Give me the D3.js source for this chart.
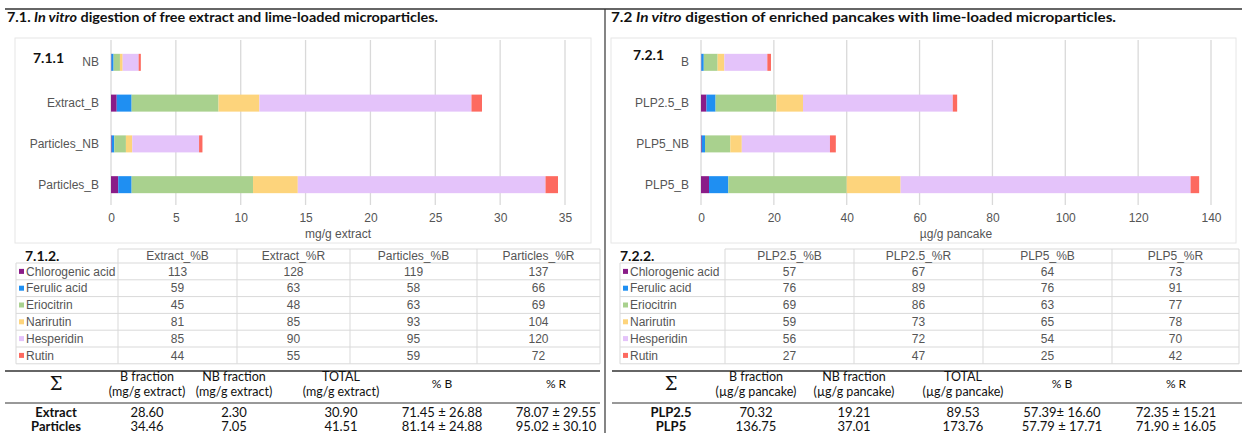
<!DOCTYPE html>
<html><head><meta charset="utf-8">
<script src="https://cdn.jsdelivr.net/npm/d3@7/dist/d3.min.js"></script>
<style>
html,body{margin:0;padding:0;background:#fff;}
svg{display:block;}
</style></head>
<body>
<svg id="fig" width="1242" height="433"></svg>
<script>
// ---------- DATA ----------
const compounds = ["Chlorogenic acid","Ferulic acid","Eriocitrin","Narirutin","Hesperidin","Rutin"];
const compoundColors = ["#8a1c88","#1f8ff2","#a9d18e","#fdd47c","#e4c3fa","#fd6a60"];

const extractCats = ["NB","Extract_B","Particles_NB","Particles_B"];
const extractChlorogenic = [0.03, 0.44, 0.05, 0.56];
const extractFerulic     = [0.17, 1.15, 0.20, 1.03];
const extractEriocitrin  = [0.49, 6.70, 0.90, 9.36];
const extractNarirutin   = [0.21, 3.15, 0.49, 3.45];
const extractHesperidin  = [1.23, 16.35, 5.15, 19.10];
const extractRutin       = [0.17, 0.81, 0.26, 0.96];
const extractTicks = [0,5,10,15,20,25,30,35];

const pancakeCats = ["B","PLP2.5_B","PLP5_NB","PLP5_B"];
const pancakeChlorogenic = [0.10, 1.50, 0.20, 2.20];
const pancakeFerulic     = [0.66, 2.50, 0.90, 5.30];
const pancakeEriocitrin  = [3.80, 16.70, 6.95, 32.50];
const pancakeNarirutin   = [1.85, 7.30, 3.15, 14.80];
const pancakeHesperidin  = [11.80, 41.12, 24.20, 79.60];
const pancakeRutin       = [1.00, 1.20, 1.61, 2.35];
const pancakeTicks = [0,20,40,60,80,100,120,140];

const extractCols = ["Extract_%B","Extract_%R","Particles_%B","Particles_%R"];
const extractPct = [[113,128,119,137],[59,63,58,66],[45,48,63,69],[81,85,93,104],[85,90,95,120],[44,55,59,72]];
const pancakeCols = ["PLP2.5_%B","PLP2.5_%R","PLP5_%B","PLP5_%R"];
const pancakePct = [[57,67,64,73],[76,89,76,91],[69,86,63,77],[59,73,65,78],[56,72,54,70],[27,47,25,42]];

const sumHeadLeft = [["Σ"],["B fraction","(mg/g extract)"],["NB fraction","(mg/g extract)"],["TOTAL","(mg/g extract)"],["% B"],["% R"]];
const sumRowsLeft = [["Extract","28.60","2.30","30.90","71.45 ± 26.88","78.07 ± 29.55"],
                     ["Particles","34.46","7.05","41.51","81.14 ± 24.88","95.02 ± 30.10"]];
const sumHeadRight = [["Σ"],["B fraction","(µg/g pancake)"],["NB fraction","(µg/g pancake)"],["TOTAL","(µg/g pancake)"],["% B"],["% R"]];
const sumRowsRight = [["PLP2.5","70.32","19.21","89.53","57.39± 16.60","72.35 ± 15.21"],
                      ["PLP5","136.75","37.01","173.76","57.79 ± 17.71","71.90 ± 16.05"]];

// ---------- DRAW ----------
const svg = d3.select("#fig");
const gray = "#555", grid = "#d9d9d9";
const chartFont = "'Liberation Sans', Arial, sans-serif";
const docFont = "Lato, 'Open Sans', sans-serif";
const fs = 12;

// top rule and divider
svg.append("line").attr("x1",5).attr("x2",1242).attr("y1",9).attr("y2",9).attr("stroke","#333").attr("stroke-width",1.6);
svg.append("line").attr("x1",605).attr("x2",605).attr("y1",9).attr("y2",433).attr("stroke","#333").attr("stroke-width",1.2);

function title(x, len, parts){
  const t = svg.append("text").attr("x",x).attr("y",22).attr("font-family",docFont).attr("font-size",14).attr("font-weight","bold").attr("fill","#111")
    .attr("textLength",len).attr("lengthAdjust","spacingAndGlyphs");
  parts.forEach(p=>t.append("tspan").attr("font-style",p[1]?"italic":"normal").text(p[0]));
}
title(7, 431, [["7.1. ",false],["In vitro",true],[" digestion of free extract and lime-loaded microparticles.",false]]);
title(611, 505, [["7.2 ",false],["In vitro",true],[" digestion of enriched pancakes with lime-loaded microparticles.",false]]);

function chart(o){
  const g = svg.append("g");
  g.append("rect").attr("x",o.fx0).attr("y",38).attr("width",o.fx1-o.fx0).attr("height",205).attr("fill","none").attr("stroke","#e6e6e6").attr("stroke-width",1);
  const x = d3.scaleLinear().domain([0,o.ticks[o.ticks.length-1]]).range([o.x0,o.x1]);
  const y = d3.scaleBand().domain(o.cats).range([42,205]).paddingInner(0.583).paddingOuter(0.29);
  g.selectAll("line.grid").data(o.ticks).join("line").attr("class","grid")
    .attr("x1",d=>x(d)).attr("x2",d=>x(d)).attr("y1",40).attr("y2",205)
    .attr("stroke",grid).attr("stroke-width",1.3);
  const ax = g.append("g").attr("transform","translate(0,205)")
    .call(d3.axisBottom(x).tickValues(o.ticks).tickSize(0).tickPadding(8));
  ax.select(".domain").remove();
  ax.selectAll("text").attr("font-family",chartFont).attr("font-size",fs).attr("fill",gray);
  const ay = g.append("g").attr("transform",`translate(${o.x0},0)`)
    .call(d3.axisLeft(y).tickSize(0).tickPadding(12));
  ay.select(".domain").remove();
  ay.selectAll("text").attr("font-family",chartFont).attr("font-size",fs).attr("fill",gray);
  const rows = o.cats.map((c,i)=>{const r={cat:c}; compounds.forEach((k,j)=>r[k]=o.series[j][i]); return r;});
  const stack = d3.stack().keys(compounds)(rows);
  g.selectAll("g.s").data(stack).join("g").attr("fill",(d,i)=>compoundColors[i])
    .selectAll("rect").data(d=>d).join("rect")
    .attr("x",d=>x(d[0])).attr("width",d=>x(d[1])-x(d[0]))
    .attr("y",d=>y(d.data.cat)).attr("height",y.bandwidth());
  g.append("text").attr("x",(o.x0+o.x1)/2).attr("y",238).attr("text-anchor","middle")
    .attr("font-family",chartFont).attr("font-size",fs).attr("fill",gray).text(o.axisTitle);
  g.append("text").attr("x",o.lx).attr("y",o.ly).attr("font-family",docFont).attr("font-weight","bold").attr("font-size",14).attr("fill","#111").text(o.label);
}
chart({fx0:15,fx1:591,x0:111,x1:565,cats:extractCats,ticks:extractTicks,
  series:[extractChlorogenic,extractFerulic,extractEriocitrin,extractNarirutin,extractHesperidin,extractRutin],
  axisTitle:"mg/g extract",label:"7.1.1",lx:33,ly:63});
chart({fx0:611,fx1:1236,x0:701,x1:1211,cats:pancakeCats,ticks:pancakeTicks,
  series:[pancakeChlorogenic,pancakeFerulic,pancakeEriocitrin,pancakeNarirutin,pancakeHesperidin,pancakeRutin],
  axisTitle:"µg/g pancake",label:"7.2.1",lx:633,ly:60});

function pctTable(o){
  const g = svg.append("g");
  const top = 249, hh = 14, rh = 16.8;
  const bounds = o.bounds;
  const yRows = d3.range(compounds.length+1).map(i=>top+hh+i*rh);
  g.append("line").attr("x1",bounds[0]).attr("x2",bounds[bounds.length-1]).attr("y1",top).attr("y2",top).attr("stroke",grid);
  yRows.forEach(yy=>g.append("line").attr("x1",o.lx).attr("x2",bounds[bounds.length-1]).attr("y1",yy).attr("y2",yy).attr("stroke",grid));
  bounds.forEach(bx=>g.append("line").attr("x1",bx).attr("x2",bx).attr("y1",top).attr("y2",yRows[yRows.length-1]).attr("stroke",grid));
  g.append("line").attr("x1",o.lx).attr("x2",o.lx).attr("y1",yRows[0]).attr("y2",yRows[yRows.length-1]).attr("stroke",grid);
  o.cols.forEach((c,i)=>g.append("text").attr("x",(bounds[i]+bounds[i+1])/2).attr("y",top+hh/2+4).attr("text-anchor","middle")
    .attr("font-family",chartFont).attr("font-size",fs).attr("fill",gray).text(c));
  compounds.forEach((c,r)=>{
    const cy = yRows[r]+rh/2;
    g.append("rect").attr("x",o.lx+3).attr("y",cy-2.5).attr("width",5).attr("height",5).attr("fill",compoundColors[r]);
    g.append("text").attr("x",o.lx+10).attr("y",cy+4.2).attr("font-family",chartFont).attr("font-size",fs).attr("fill",gray).text(c);
    o.data[r].forEach((v,i)=>g.append("text").attr("x",(bounds[i]+bounds[i+1])/2).attr("y",cy+4.2).attr("text-anchor","middle")
      .attr("font-family",chartFont).attr("font-size",fs).attr("fill",gray).text(v));
  });
  g.append("text").attr("x",o.tx).attr("y",top+12).attr("font-family",docFont).attr("font-weight","bold").attr("font-size",14).attr("fill","#111").text(o.label);
}
pctTable({lx:16,bounds:[118,237,350,477,600],cols:extractCols,data:extractPct,label:"7.1.2.",tx:25});
pctTable({lx:620,bounds:[725,854,983,1112,1239],cols:pancakeCols,data:pancakePct,label:"7.2.2.",tx:620});

function sumTable(o){
  const g = svg.append("g");
  g.append("line").attr("x1",o.x0).attr("x2",o.x1).attr("y1",371).attr("y2",371).attr("stroke","#333").attr("stroke-width",1.6);
  g.append("line").attr("x1",o.x0).attr("x2",o.x1).attr("y1",403).attr("y2",403).attr("stroke","#333").attr("stroke-width",1);
  o.head.forEach((h,i)=>{
    if(h[0]==="Σ"){
      g.append("text").attr("x",o.cx[i]).attr("y",390).attr("text-anchor","middle").attr("font-family","'DejaVu Serif',serif").attr("font-size",18).attr("fill","#111").text(h[0]);
    } else if(h.length===1){
      g.append("text").attr("x",o.cx[i]).attr("y",388).attr("text-anchor","middle").attr("font-family",docFont).attr("font-size",12).attr("fill","#111").text(h[0]);
    } else {
      g.append("text").attr("x",o.cx[i]).attr("y",381).attr("text-anchor","middle").attr("font-family",docFont).attr("font-size",12.5).attr("fill","#111").text(h[0]);
      g.append("text").attr("x",o.cx[i]).attr("y",396).attr("text-anchor","middle").attr("font-family",docFont).attr("font-size",12.5).attr("fill","#111").text(h[1]);
    }
  });
  o.rows.forEach((r,ri)=>{
    r.forEach((v,i)=>g.append("text").attr("x",o.cx[i]).attr("y",416.5+ri*14.5).attr("text-anchor","middle")
      .attr("font-family",docFont).attr("font-size",13).attr("font-weight",i===0?"bold":"normal").attr("fill","#111").text(v));
  });
}
sumTable({x0:5,x1:600,cx:[56,147,234,341,442,556],head:sumHeadLeft,rows:sumRowsLeft});
sumTable({x0:612,x1:1242,cx:[671,756,854,963,1062,1176],head:sumHeadRight,rows:sumRowsRight});
</script>
</body></html>
